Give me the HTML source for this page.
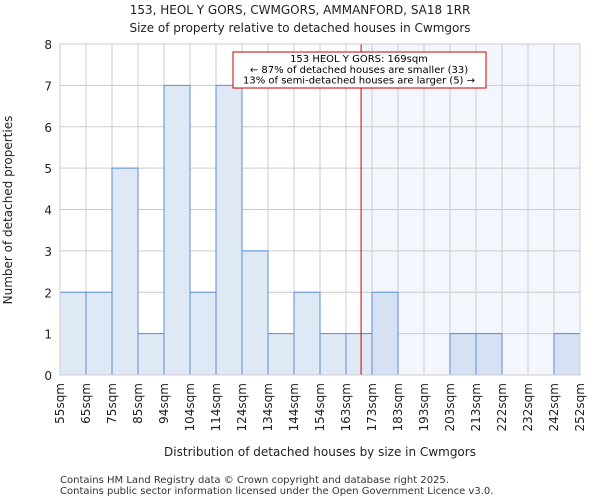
<!DOCTYPE html>
<html><head><meta charset="utf-8"><style>
body{margin:0;background:#fff;font-family:"DejaVu Sans","Liberation Sans",sans-serif}
</style></head><body>
<svg width="600" height="500" viewBox="0 0 600 500" xmlns="http://www.w3.org/2000/svg" font-family="DejaVu Sans, Liberation Sans, sans-serif">
<text x="300" y="14" text-anchor="middle" font-size="12" fill="#222">153, HEOL Y GORS, CWMGORS, AMMANFORD, SA18 1RR</text>
<text x="300" y="32" text-anchor="middle" font-size="12" fill="#222">Size of property relative to detached houses in Cwmgors</text>
<g id="plot"></g>
<text transform="translate(12,210) rotate(-90)" text-anchor="middle" font-size="12" fill="#222">Number of detached properties</text>
<text x="320" y="456" text-anchor="middle" font-size="12" fill="#222">Distribution of detached houses by size in Cwmgors</text>
<text x="60" y="483" font-size="10" fill="#333">Contains HM Land Registry data © Crown copyright and database right 2025.</text>
<text x="60" y="494" font-size="10" fill="#333">Contains public sector information licensed under the Open Government Licence v3.0.</text>
</svg>
<script>
const categories=["55sqm","65sqm","75sqm","85sqm","94sqm","104sqm","114sqm","124sqm","134sqm","144sqm","154sqm","163sqm","173sqm","183sqm","193sqm","203sqm","213sqm","222sqm","232sqm","242sqm","252sqm"];
const counts=[2,2,5,1,7,2,7,3,1,2,1,1,2,0,0,1,1,0,0,1];
const yTicks=[0,1,2,3,4,5,6,7,8];
const markerBin=11.58;
const ns="http://www.w3.org/2000/svg";
const L=60,R=580,T=44,B=375,yMax=8;
const bw=(R-L)/counts.length;
const xs=i=>L+i*bw;
const ys=v=>B-(B-T)*v/yMax;
const g=document.getElementById('plot');
function mk(t,a){const e=document.createElementNS(ns,t);for(const k in a)e.setAttribute(k,a[k]);g.appendChild(e);return e;}
const mx=xs(markerBin);
let e=mk('rect',{x:mx,y:T,width:R-mx,height:B-T,fill:'#f3f6fd'});


yTicks.forEach(v=>{
 let l=mk('line',{x1:L,x2:R,y1:ys(v),y2:ys(v),stroke:'#ccc','stroke-width':1});
 
 
 let t=mk('text',{x:L-8,y:ys(v)+5,'text-anchor':'end','font-size':12,fill:'#222'});
 t.textContent=v;
 
 
});
categories.forEach((c,i)=>{
 let l=mk('line',{x1:xs(i),x2:xs(i),y1:T,y2:B,stroke:'#ccc','stroke-width':1});
 
 
 let t=mk('text',{transform:`translate(${xs(i)+4},383) rotate(-90)`,'text-anchor':'end','font-size':12,fill:'#222'});
 t.textContent=c;
 
 
});
counts.forEach((v,i)=>{
 if(v<=0)return;
 let r=mk('rect',{x:xs(i),y:ys(v),width:bw,height:B-ys(v),fill:xs(i)>=mx?'#d6e2f4':'#dfe8f5',stroke:'#5a8fd6','stroke-width':1});
 
 
});
let ml=mk('line',{x1:mx,x2:mx,y1:T,y2:B,stroke:'#c00','stroke-width':1});


let bx=mk('rect',{x:233,y:52,width:253,height:36,fill:'#fff',stroke:'#c00','stroke-width':1});


["153 HEOL Y GORS: 169sqm","← 87% of detached houses are smaller (33)","13% of semi-detached houses are larger (5) →"].forEach((s,k)=>{
 let t=mk('text',{x:359,y:62+k*10.8,'text-anchor':'middle','font-size':10,fill:'#000'});
 t.textContent=s;
 
 
});
let ax=mk('rect',{x:L,y:T,width:R-L,height:B-T,fill:'none',stroke:'#ccc','stroke-width':1});


</script>
</body></html>
